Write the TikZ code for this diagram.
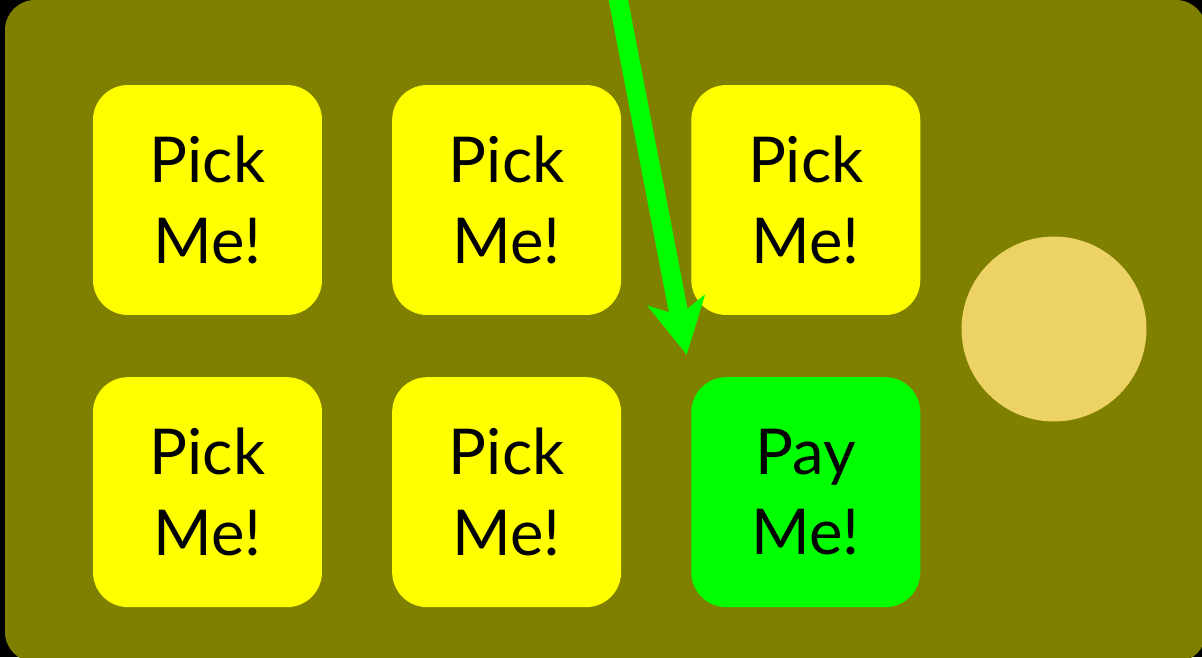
\documentclass[tikz,border=0pt]{standalone}
\usepackage{fontspec}
\setmainfont{Lato}
\usetikzlibrary{positioning, arrows.meta}
\definecolor{board-olive}{HTML}{808000}
\definecolor{pick-yellow}{HTML}{FFFF00}
\definecolor{pay-green}{HTML}{00FF00}
\definecolor{coin-gold}{HTML}{EDD265}

\begin{document}
\begin{tikzpicture}[
    x=0.02cm, y=-0.02cm,
    node distance=1.23cm and 1.39cm,
    pickbox/.style={rounded corners=0.7cm, fill=pick-yellow, minimum width=4.58cm, minimum height=4.6cm, inner sep=0pt, align=center, font=\fontsize{36}{46}\selectfont},
    paybox/.style={pickbox, fill=pay-green},
    coin/.style={circle, fill=coin-gold, minimum size=3.7cm, inner sep=0pt},
    payarrow/.style={-{Stealth[length=1.1cm, width=1.15cm, inset=0.3cm]}, line width=0.38cm, draw=pay-green, shorten >=0.45cm}
]
    \useasboundingbox (0,0) rectangle (1202,657);

    % --- Board ---
    \fill[black] (0,0) rectangle (1202,657);
    \fill[board-olive, rounded corners=0.6cm] (5,0) rectangle (1206,662);

    % --- Nodes Definitions ---
    % top row
    \node (pick1) [pickbox] at (207.5,200) {Pick\\Me!};
    \node (pick2) [pickbox, right=of pick1] {Pick\\Me!};
    \node (pick3) [pickbox, right=of pick2] {Pick\\Me!};

    % bottom row
    \node (pick4) [pickbox, below=of pick1] {Pick\\Me!};
    \node (pick5) [pickbox, right=of pick4] {Pick\\Me!};
    \node (pay) [paybox, right=of pick5] {Pay\\Me!};

    \node (gold) [coin] at (1054,329) {};

    % --- Connections ---
    \coordinate (drop) at (618,-2);
    \draw [payarrow] (drop) -- (pay.north west);

\end{tikzpicture}
\end{document}
